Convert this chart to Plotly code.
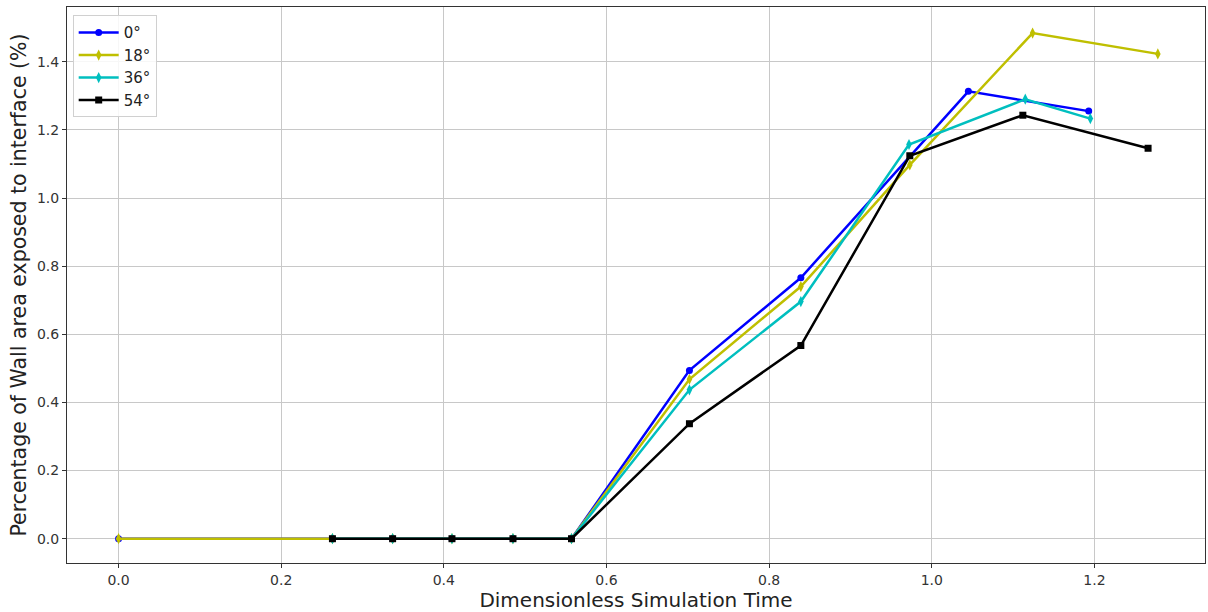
import plotly.graph_objects as go

# Data
zero_x = [0.0, 0.263, 0.337, 0.41, 0.485, 0.557]
zero_y = [0, 0, 0, 0, 0, 0]

x_0deg = zero_x + [0.702, 0.839, 1.045, 1.193]
y_0deg = zero_y + [0.494, 0.766, 1.313, 1.255]

x_18deg = zero_x + [0.702, 0.839, 0.973, 1.124, 1.278]
y_18deg = zero_y + [0.468, 0.740, 1.097, 1.484, 1.423]

x_36deg = zero_x[1:] + [0.702, 0.839, 0.972, 1.115, 1.195]
y_36deg = zero_y[1:] + [0.437, 0.696, 1.157, 1.290, 1.233]

x_54deg = [0.263, 0.337, 0.41, 0.485, 0.557, 0.702, 0.839, 0.973, 1.112, 1.266]
y_54deg = [0, 0, 0, 0, 0, 0.3375, 0.567, 1.124, 1.243, 1.146]

series = [
    ("0°", x_0deg, y_0deg, "#0000ff", "circle", 7),
    ("18°", x_18deg, y_18deg, "#bfbf00", "diamond-tall", 8),
    ("36°", x_36deg, y_36deg, "#00bfbf", "diamond-tall", 8),
    ("54°", x_54deg, y_54deg, "#000000", "square", 7),
]

x_ticks = [0.0, 0.2, 0.4, 0.6, 0.8, 1.0, 1.2]
y_ticks = [0.0, 0.2, 0.4, 0.6, 0.8, 1.0, 1.2, 1.4]

fig = go.Figure()
for name, xs, ys, color, sym, size in series:
    fig.add_trace(go.Scatter(
        x=xs, y=ys, name=name, mode="lines+markers",
        line=dict(color=color, width=2.5),
        marker=dict(symbol=sym, size=size, color=color),
    ))

axis_common = dict(
    showline=True, linecolor="#333333", linewidth=1, mirror=True,
    showgrid=True, gridcolor="#c8c8c8", gridwidth=1,
    ticks="outside", ticklen=4, tickcolor="#333333",
    tickfont=dict(family="DejaVu Sans", size=14, color="#333333"),
    zeroline=False, automargin=False,
)

fig.update_layout(
    width=1208, height=612,
    margin=dict(l=67, r=3, t=7, b=49),
    paper_bgcolor="white", plot_bgcolor="white",
    font=dict(family="DejaVu Sans", color="#222222"),
    xaxis=dict(range=[-0.0634, 1.336], tickvals=x_ticks,
               ticktext=[f"{v:.1f}" for v in x_ticks],
               title=dict(text="Dimensionless Simulation Time", font=dict(size=20), standoff=2),
               **axis_common),
    yaxis=dict(range=[-0.0713, 1.5606], tickvals=y_ticks,
               ticktext=[f"{v:.1f}" for v in y_ticks],
               title=dict(text="Percentage of Wall area exposed to interface (%)", font=dict(size=20.5), standoff=4),
               **axis_common),
    legend=dict(x=0.005, y=0.985, xanchor="left", yanchor="top",
                bgcolor="rgba(255,255,255,0.85)", bordercolor="#d0d0d0", borderwidth=1,
                font=dict(size=15, family="DejaVu Sans"), tracegroupgap=0,
                itemwidth=40),
    showlegend=True,
)

fig.write_html(
    "out.html",
    config={"displayModeBar": False},
    post_script="document.body.style.margin='0';document.body.style.overflow='hidden';",
)
